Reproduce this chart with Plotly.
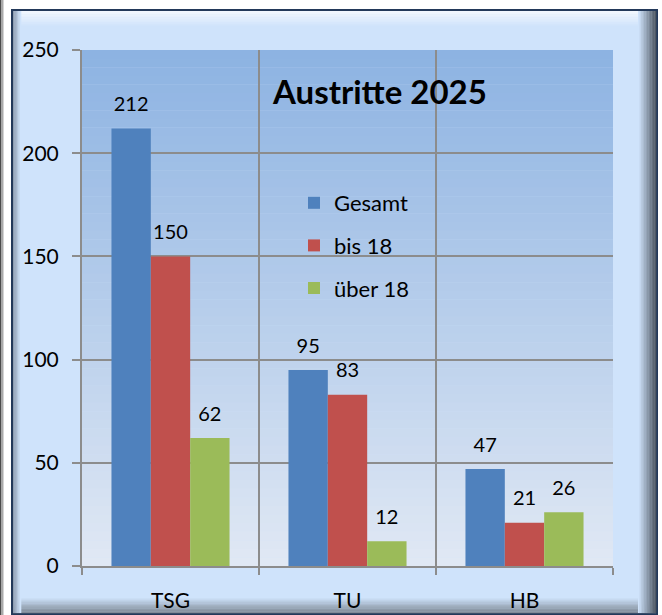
import plotly.graph_objects as go

categories = ["TSG", "TU", "HB"]
series_names = ["Gesamt", "bis 18", "über 18"]
gesamt = [212, 95, 47]
bis_18 = [150, 83, 21]
ueber_18 = [62, 12, 26]
series_values = [gesamt, bis_18, ueber_18]
series_colors = ["#4f81bd", "#c0504d", "#9bbb59"]
title_text = "Austritte 2025"
y_ticks = [0, 50, 100, 150, 200, 250]

W, H = 662, 615
L, R, T, B = 82, 49, 50, 49
PW = W - L - R
PH = H - T - B
FONT = "Lato"


def px(x):
    return (x - L) / PW


def py(y):
    return (H - B - y) / PH


def hex2rgb(c):
    c = c.lstrip("#")
    return [int(c[i:i + 2], 16) for i in (0, 2, 4)]


def mix(c0, c1, t):
    a, b = hex2rgb(c0), hex2rgb(c1)
    return "rgb(%d,%d,%d)" % tuple(round(a[i] + (b[i] - a[i]) * t) for i in range(3))


def rect(x0, y0, x1, y1, fill, lw=0, lc=None):
    return dict(type="rect", xref="paper", yref="paper", layer="below",
                x0=px(x0), x1=px(x1), y0=py(y1), y1=py(y0),
                fillcolor=fill, line=dict(width=lw, color=lc or fill))


def grad(x0, y0, x1, y1, c0, c1, n, vertical=True):
    out = []
    for i in range(n):
        t = i / max(n - 1, 1)
        if vertical:
            a = y0 + (y1 - y0) * i / n
            b = y0 + (y1 - y0) * (i + 1) / n
            out.append(rect(x0, a, x1, b + 0.3, mix(c0, c1, t)))
        else:
            a = x0 + (x1 - x0) * i / n
            b = x0 + (x1 - x0) * (i + 1) / n
            out.append(rect(a, y0, b + 0.3, y1, mix(c0, c1, t)))
    return out


shapes = []
# neighbouring frame edge at far left
shapes.append(rect(0, 0, 1.5, H, "#4a4a4a"))
shapes.append(rect(1.5, 0, 3.5, H, "#a9a9a9"))
# main frame
FB = "#cfe3fb"
shapes.append(rect(12, 10, 657, 614, FB, 2, "#23395a"))
# bevels
shapes += grad(13, 11, 656, 27, "#f2f7fe", FB, 10, vertical=True)
shapes += grad(13, 597, 656, 613, FB, "#7f8a97", 10, vertical=True)
shapes += grad(13, 11, 21, 613, "#8e9db0", FB, 6, vertical=False)
shapes += grad(638, 11, 656, 613, FB, "#4f5965", 12, vertical=False)
# plot area gradient
shapes += grad(L, T, L + PW, T + PH, "#8db3e2", "#e0e8f4", 60, vertical=True)

fig = go.Figure()
for name, vals, col in zip(series_names, series_values, series_colors):
    fig.add_trace(go.Bar(
        x=categories, y=vals, name=name, offsetgroup=name, legendgroup=name,
        marker=dict(color=col, line=dict(width=0)),
        hoverinfo="x+y+name",
    ))
for name, vals in zip(series_names, series_values):
    fig.add_trace(go.Scatter(
        x=categories, y=vals, mode="markers+text", offsetgroup=name,
        text=[str(v) for v in vals], textposition="top center",
        textfont=dict(family=FONT, size=20, color="#000000"),
        marker=dict(size=18, opacity=0), showlegend=False, hoverinfo="skip",
    ))

fig.add_annotation(
    text="<b>" + title_text + "</b>", xref="paper", yref="paper",
    x=px(379), y=py(91), xanchor="center", yanchor="middle", showarrow=False,
    font=dict(family=FONT, size=33, color="#000000"),
)

fig.update_layout(
    width=W, height=H,
    margin=dict(l=L, r=R, t=T, b=B, pad=0, autoexpand=False),
    paper_bgcolor="#ffffff",
    plot_bgcolor="rgba(0,0,0,0)",
    barmode="group", bargap=0.333, bargroupgap=0,
    scattermode="group", scattergap=0.333,
    shapes=shapes,
    font=dict(family=FONT, size=20, color="#000000"),
    showlegend=True,
    legend=dict(x=px(294), y=py(182), xanchor="left", yanchor="top",
                bgcolor="rgba(0,0,0,0)", font=dict(family=FONT, size=22),
                tracegroupgap=11, traceorder="grouped"),
    xaxis=dict(type="category", tickson="boundaries", showgrid=True,
               gridcolor="#8c8c8c", gridwidth=1.5, automargin=False,
               showline=True, linecolor="#8c8c8c", linewidth=2,
               ticks="outside", ticklen=7, tickwidth=2, tickcolor="#8c8c8c",
               tickfont=dict(family=FONT, size=21), ticklabelstandoff=15,
               range=[-0.5, 2.5], fixedrange=True),
    yaxis=dict(range=[0, 250], tickvals=y_ticks, showgrid=True,
               gridcolor="#8c8c8c", gridwidth=1.5, zeroline=False, automargin=False,
               showline=True, linecolor="#8c8c8c", linewidth=2,
               ticks="outside", ticklen=8, tickwidth=2, tickcolor="#8c8c8c",
               tickfont=dict(family=FONT, size=21), ticklabelstandoff=9,
               fixedrange=True),
)

fig.write_html("out.html")
